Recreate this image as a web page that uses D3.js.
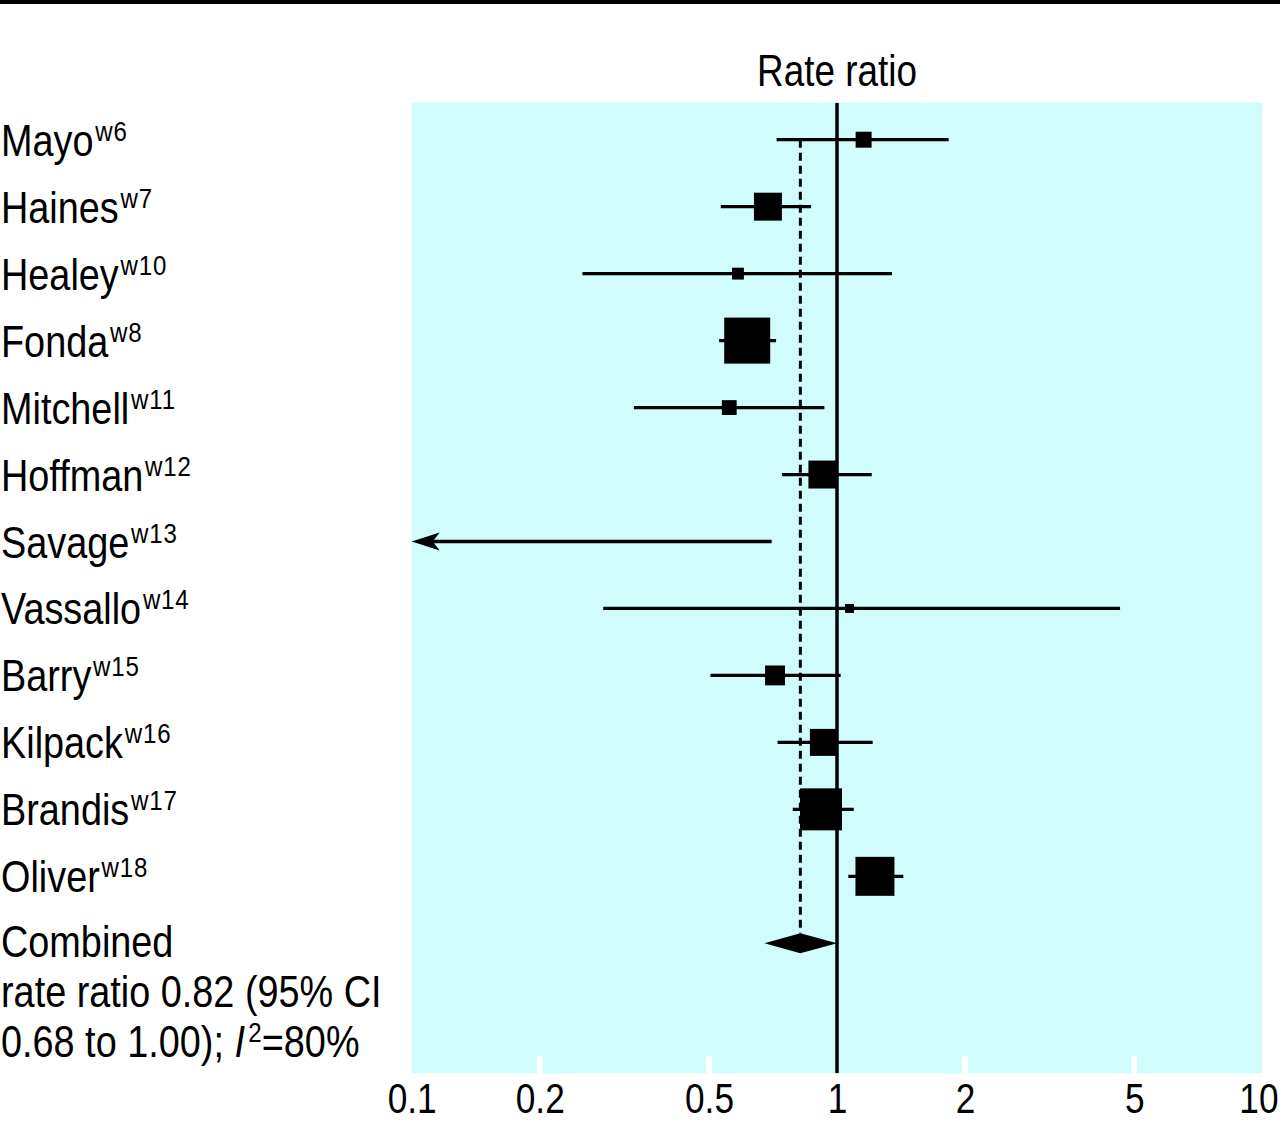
<!DOCTYPE html>
<html>
<head>
<meta charset="utf-8">
<script src="https://cdn.jsdelivr.net/npm/d3@7"></script>
<style>
  body { margin: 0; background: #fff; }
  svg { display: block; font-family: "Liberation Sans", Arial, sans-serif; }
</style>
</head>
<body>
<svg id="forest"></svg>
<script>
// study rows
var studies = ["Mayo", "Haines", "Healey", "Fonda", "Mitchell", "Hoffman", "Savage", "Vassallo", "Barry", "Kilpack", "Brandis", "Oliver"]
var refs = ["w6", "w7", "w10", "w8", "w11", "w12", "w13", "w14", "w15", "w16", "w17", "w18"]
var rateRatio = [1.155, 0.688, 0.585, 0.615, 0.558, 0.924, 0.08, 1.07, 0.715, 0.929, 0.917, 1.228]
var lower = [0.721, 0.533, 0.252, 0.528, 0.333, 0.743, 0.01, 0.282, 0.504, 0.725, 0.787, 1.063]
var upper = [1.83, 0.869, 1.347, 0.719, 0.934, 1.207, 0.702, 4.63, 1.02, 1.213, 1.095, 1.432]
var weights = [2.9, 8.9, 1.6, 24.1, 2.5, 8.9, 0.2, 0.9, 4.5, 8.3, 20.1, 17.3]

var combined = { rr: 0.82, lo: 0.675, hi: 1.00 }
var combinedText = ["Combined", "rate ratio 0.82 (95% CI", "0.68 to 1.00); "]
var tickValues = [0.1, 0.2, 0.5, 1, 2, 5, 10]
var tickLabels = ["0.1", "0.2", "0.5", "1", "2", "5", "10"]

var dimensions = {
    width: 1280,
    height: 1122,
    margin: { top: 102.7, bottom: 48.7, left: 411.7, right: 17.7 }
}
var panelBottom = dimensions.height - dimensions.margin.bottom
var panelRight = dimensions.width - dimensions.margin.right
var narrow = "scale(0.82,1)"   // condensed look, like the original typeface
var labelNarrow = "scale(0.86,1)"

var svg = d3.select("#forest")
    .attr("width", dimensions.width)
    .attr("height", dimensions.height)

var rows = studies.map((s, i) => ({ name: s, ref: refs[i], rr: rateRatio[i], lo: lower[i], hi: upper[i], w: weights[i] }))

var xScale = d3.scaleLog()
    .domain([0.1, 10])
    .range([dimensions.margin.left, panelRight])

var yScale = d3.scalePoint()
    .domain(studies.concat(["Combined"]))
    .range([139.7, 943.3])

var sizeScale = d3.scaleSqrt()
    .domain([0, d3.max(weights)])
    .range([0, 46])

// top rule
svg.append("rect")
    .attr("x", 0).attr("y", 0)
    .attr("width", dimensions.width).attr("height", 4)
    .attr("fill", "#000")

// panel
svg.append("rect")
    .attr("x", dimensions.margin.left)
    .attr("y", dimensions.margin.top)
    .attr("width", panelRight - dimensions.margin.left)
    .attr("height", panelBottom - dimensions.margin.top)
    .attr("fill", "#d1fcfc")

// axis: white tick notches inside panel, labels below
var xAxis = svg.append("g")
    .attr("transform", `translate(0,${panelBottom})`)
    .call(d3.axisBottom(xScale).tickValues(tickValues).tickFormat((d, i) => tickLabels[i]).tickSize(0).tickPadding(10))
xAxis.select(".domain").remove()
xAxis.selectAll("text")
    .attr("fill", "#000")
    .attr("transform", "scale(0.84,1)")
    .style("font-size", "42px")
    .attr("dy", "0.71em")
// last label would run off the page edge, keep it inside
xAxis.selectAll("text")
    .filter(d => d == 10)
    .attr("text-anchor", "end")
    .attr("x", (dimensions.width - 2 - xScale(10)) / 0.84)
svg.append("g").selectAll("line")
    .data(tickValues.filter(d => d != 0.1 && d != 1 && d != 10))
    .enter()
    .append("line")
    .attr("x1", d => xScale(d)).attr("x2", d => xScale(d))
    .attr("y1", panelBottom - 17).attr("y2", panelBottom)
    .attr("stroke", "#fff")
    .attr("stroke-width", 6)

// title
svg.append("text")
    .attr("transform", `translate(${xScale(1)},86) ${narrow}`)
    .attr("text-anchor", "middle")
    .style("font-size", "45px")
    .text("Rate ratio")

svg.append("clipPath").attr("id", "panelClip")
    .append("rect")
    .attr("x", dimensions.margin.left)
    .attr("y", dimensions.margin.top)
    .attr("width", panelRight - dimensions.margin.left)
    .attr("height", panelBottom - dimensions.margin.top)

var plot = svg.append("g").attr("clip-path", "url(#panelClip)")

// no effect line
plot.append("line")
    .attr("x1", xScale(1)).attr("x2", xScale(1))
    .attr("y1", dimensions.margin.top).attr("y2", panelBottom)
    .attr("stroke", "#000")
    .attr("stroke-width", 3.5)

// combined estimate dashed line
plot.append("line")
    .attr("x1", xScale(combined.rr)).attr("x2", xScale(combined.rr))
    .attr("y1", yScale("Mayo")).attr("y2", yScale("Combined") - 10)
    .attr("stroke", "#000")
    .attr("stroke-width", 3)
    .attr("stroke-dasharray", "8,5")

// confidence intervals
var lo = d => Math.max(d.lo, 0.1)
plot.selectAll(".ci")
    .data(rows)
    .enter()
    .append("line")
    .attr("class", "ci")
    .attr("x1", d => xScale(lo(d)) + (d.lo < 0.1 ? 20 : 0))
    .attr("x2", d => xScale(d.hi))
    .attr("y1", d => yScale(d.name)).attr("y2", d => yScale(d.name))
    .attr("stroke", "#000")
    .attr("stroke-width", 3.3)

// arrows where interval runs off the scale
plot.selectAll(".arrow")
    .data(rows.filter(d => d.lo < 0.1))
    .enter()
    .append("path")
    .attr("class", "arrow")
    .attr("d", d => {
        var x = xScale(0.1), y = yScale(d.name)
        return `M${x},${y} L${x + 28},${y - 9} L${x + 21},${y} L${x + 28},${y + 9} Z`
    })
    .attr("fill", "#000")

// weighted boxes
plot.selectAll(".box")
    .data(rows.filter(d => d.rr >= 0.1))
    .enter()
    .append("rect")
    .attr("class", "box")
    .attr("x", d => xScale(d.rr) - sizeScale(d.w) / 2)
    .attr("y", d => yScale(d.name) - sizeScale(d.w) / 2)
    .attr("width", d => sizeScale(d.w))
    .attr("height", d => sizeScale(d.w))
    .attr("fill", "#000")

// pooled diamond
var cy = yScale("Combined")
plot.append("path")
    .attr("d", `M${xScale(combined.lo)},${cy} L${xScale(combined.rr)},${cy - 10} L${xScale(combined.hi)},${cy} L${xScale(combined.rr)},${cy + 10} Z`)
    .attr("fill", "#000")

// study labels with superscript references
var labels = svg.selectAll(".label")
    .data(rows)
    .enter()
    .append("text")
    .attr("class", "label")
    .attr("transform", d => `translate(1,${yScale(d.name) + 16}) ${labelNarrow}`)
    .style("font-size", "44px")
labels.append("tspan").text(d => d.name)
labels.append("tspan")
    .attr("dx", 2)
    .attr("dy", -15)
    .style("font-size", "28px")
    .style("letter-spacing", "1px")
    .text(d => d.ref)

// combined label
var cText = svg.append("g")
combinedText.forEach((t, i) => {
    var line = cText.append("text")
        .attr("transform", `translate(1,${957 + i * 50}) ${labelNarrow}`)
        .style("font-size", "44px")
        .text(t)
    if (i == 2) {
        line.append("tspan").style("font-style", "italic").text("I")
        line.append("tspan").attr("dx", 4).attr("dy", -15).style("font-size", "28px").text("2")
        line.append("tspan").attr("dy", 15).text("=80%")
    }
})
</script>
</body>
</html>
